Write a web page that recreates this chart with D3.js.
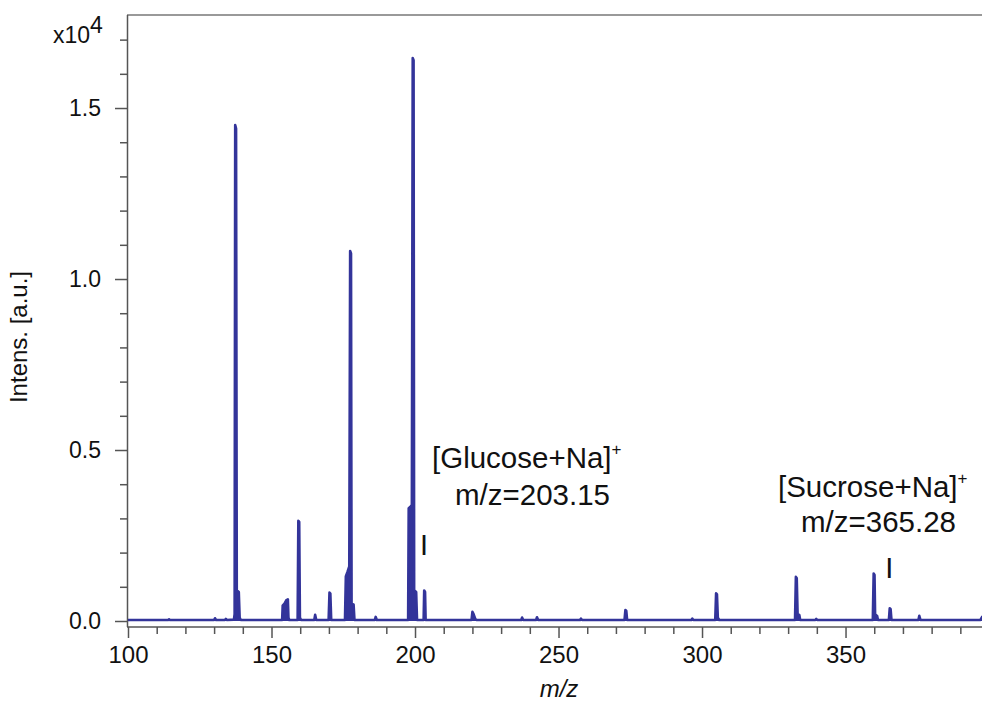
<!DOCTYPE html>
<html>
<head>
<meta charset="utf-8">
<script src="https://cdn.jsdelivr.net/npm/d3@7"></script>
<style>
  html, body { margin: 0; padding: 0; background: #fff; }
  svg { display: block; }
  text { font-family: "Liberation Sans", Arial, Helvetica, sans-serif; fill: #111; }
</style>
</head>
<body>
<svg id="chart" width="982" height="707"></svg>
<script>
// Mass spectrum profile: m/z and intensity (in units of 10^4 a.u.)
const mzValues = [
  100.0, 114.0, 114.3, 114.6, 130.0, 130.3, 130.7, 133.8, 134.1, 134.5,
  136.9, 137.15, 137.35, 137.65, 137.9, 138.6, 138.9, 139.3,
  153.7, 153.9, 154.6, 155.1, 155.7, 155.9, 156.2,
  159.1, 159.35, 159.65, 159.9, 160.3,
  164.9, 165.2, 165.6,
  169.9, 170.2, 170.5, 170.8,
  175.6, 175.9, 176.5, 177.1, 177.4, 177.7, 177.9, 178.6, 178.9,
  186.0, 186.3, 186.7,
  197.6, 197.8, 198.5, 198.9, 199.2, 199.5, 199.7, 200.4, 200.7,
  203.0, 203.2, 203.5, 203.7,
  219.7, 220.0, 220.4, 221.0, 221.5,
  237.0, 237.3, 237.7,
  242.2, 242.5, 242.9,
  257.5, 257.8, 258.2,
  273.0, 273.3, 273.6, 273.9,
  296.3, 296.6, 297.0,
  304.6, 304.9, 305.2, 305.5, 306.0,
  332.4, 332.7, 333.0, 333.3, 333.9, 334.2,
  339.5, 339.8, 340.1,
  359.5, 359.8, 360.1, 360.3, 361.0, 361.3,
  365.1, 365.4, 365.7, 366.0,
  375.4, 375.7, 376.1,
  397.0, 397.6, 398.0
];
const intensities = [
  0.003, 0.003, 0.005, 0.003, 0.003, 0.008, 0.003, 0.003, 0.006, 0.003,
  0.004, 0.02, 1.45, 1.44, 0.09, 0.085, 0.01, 0.003,
  0.003, 0.045, 0.052, 0.06, 0.063, 0.01, 0.003,
  0.003, 0.293, 0.29, 0.01, 0.003,
  0.003, 0.018, 0.003,
  0.003, 0.083, 0.08, 0.003,
  0.003, 0.13, 0.144, 0.16, 1.082, 1.075, 0.05, 0.048, 0.003,
  0.003, 0.012, 0.003,
  0.003, 0.33, 0.335, 0.34, 1.646, 1.64, 0.09, 0.085, 0.003,
  0.003, 0.089, 0.085, 0.003,
  0.003, 0.027, 0.02, 0.006, 0.003,
  0.003, 0.01, 0.003,
  0.003, 0.011, 0.003,
  0.003, 0.007, 0.003,
  0.003, 0.032, 0.03, 0.003,
  0.003, 0.007, 0.003,
  0.003, 0.081, 0.078, 0.01, 0.003,
  0.003, 0.129, 0.125, 0.02, 0.018, 0.003,
  0.003, 0.006, 0.003,
  0.003, 0.139, 0.135, 0.02, 0.015, 0.003,
  0.003, 0.037, 0.035, 0.003,
  0.003, 0.015, 0.003,
  0.003, 0.012, 0.01
];

// Axis ticks
const xMajorTicks = [100, 150, 200, 250, 300, 350];
const xMinorTicks = [110, 120, 130, 140, 160, 170, 180, 190, 210, 220, 230, 240,
                     260, 270, 280, 290, 310, 320, 330, 340, 360, 370, 380, 390];
const yMajorTicks = [0, 0.5, 1.0, 1.5];
const yMinorTicks = [0.1, 0.2, 0.3, 0.4, 0.6, 0.7, 0.8, 0.9, 1.1, 1.2, 1.3, 1.4, 1.6, 1.7];

// Annotated ions
const ionNames = ["Glucose+Na", "Sucrose+Na"];
const ionMz = [203.15, 365.28];

const svg = d3.select("#chart");

const x = d3.scaleLinear().domain([100, 398]).range([128, 983.3]);
const y = d3.scaleLinear().domain([0, 1.772]).range([621, 15]);

const axisColor = "#555";
const axisY0 = 627;
const traceColor = "#33349a";

// frame: top border
svg.append("line")
  .attr("x1", 127).attr("x2", 982).attr("y1", 15).attr("y2", 15)
  .attr("stroke", "#999").attr("stroke-width", 2);

// Y axis
const yAxisMajor = d3.axisLeft(y).tickValues(yMajorTicks).tickSize(12)
  .tickFormat(d3.format(".1f")).tickPadding(14);
const yAxisMinor = d3.axisLeft(y).tickValues(yMinorTicks).tickSize(7).tickFormat("");

const gyMinor = svg.append("g").attr("transform", "translate(127,0)").call(yAxisMinor);
const gy = svg.append("g").attr("transform", "translate(127,0)").call(yAxisMajor);
[gy, gyMinor].forEach(g => {
  g.select(".domain").remove();
  g.selectAll(".tick line").attr("stroke", axisColor).attr("stroke-width", 1.5);
});
gy.selectAll(".tick text").attr("font-size", 23).attr("fill", "#111")
  .attr("font-family", "Liberation Sans, Arial, sans-serif");

svg.append("line")
  .attr("x1", 127.5).attr("x2", 127.5).attr("y1", 15).attr("y2", axisY0)
  .attr("stroke", axisColor).attr("stroke-width", 1.5);

// X axis
const xAxisMajor = d3.axisBottom(x).tickValues(xMajorTicks).tickSize(11)
  .tickFormat(d3.format("d")).tickPadding(6);
const xAxisMinor = d3.axisBottom(x).tickValues(xMinorTicks).tickSize(7).tickFormat("");

const gxMinor = svg.append("g").attr("transform", `translate(0,${axisY0})`).call(xAxisMinor);
const gx = svg.append("g").attr("transform", `translate(0,${axisY0})`).call(xAxisMajor);
[gx, gxMinor].forEach(g => {
  g.select(".domain").remove();
  g.selectAll(".tick line").attr("stroke", axisColor).attr("stroke-width", 1.5);
});
gx.selectAll(".tick text").attr("font-size", 24).attr("fill", "#111")
  .attr("font-family", "Liberation Sans, Arial, sans-serif")
  .attr("dy", null).attr("y", 36);

svg.append("line")
  .attr("x1", 127).attr("x2", 982).attr("y1", axisY0).attr("y2", axisY0)
  .attr("stroke", axisColor).attr("stroke-width", 1.5);

// exponent label
const expo = svg.append("text").attr("x", 53).attr("y", 43).attr("font-size", 23);
expo.append("tspan").text("x10");
expo.append("tspan").attr("dy", -10).text("4");

// axis titles
svg.append("text")
  .attr("transform", "translate(27,337) rotate(-90)")
  .attr("text-anchor", "middle").attr("font-size", 24)
  .text("Intens. [a.u.]");

svg.append("text")
  .attr("x", 559).attr("y", 697)
  .attr("text-anchor", "middle").attr("font-size", 24).attr("font-style", "italic")
  .text("m/z");

// spectrum trace: filled profile plus outline
const points = mzValues.map((m, i) => [m, intensities[i]]);
svg.append("path")
  .datum(points)
  .attr("d", d3.area().x(d => x(d[0])).y0(y(0)).y1(d => y(d[1])))
  .attr("fill", traceColor);
svg.append("path")
  .datum(points)
  .attr("d", d3.line().x(d => x(d[0])).y(d => y(d[1])))
  .attr("fill", "none")
  .attr("stroke", traceColor)
  .attr("stroke-width", 2.6)
  .attr("stroke-linejoin", "round");

// ion annotations
const annoLayout = [
  { nameX: 432, nameY: 468, mzX: 455, mzY: 505, markY: 555 },
  { nameX: 778, nameY: 497, mzX: 801, mzY: 532, markY: 578 }
];
ionNames.forEach((name, i) => {
  const L = annoLayout[i];
  const t = svg.append("text").attr("x", L.nameX).attr("y", L.nameY).attr("font-size", 29.5);
  t.append("tspan").text("[" + name + "]");
  t.append("tspan").attr("font-size", 17).attr("dy", -13).text("+");
  svg.append("text").attr("x", L.mzX).attr("y", L.mzY).attr("font-size", 29.5)
    .text("m/z=" + ionMz[i].toFixed(2));
  svg.append("text").attr("x", x(ionMz[i])).attr("y", L.markY)
    .attr("text-anchor", "middle").attr("font-size", 29).text("I");
});
</script>
</body>
</html>
